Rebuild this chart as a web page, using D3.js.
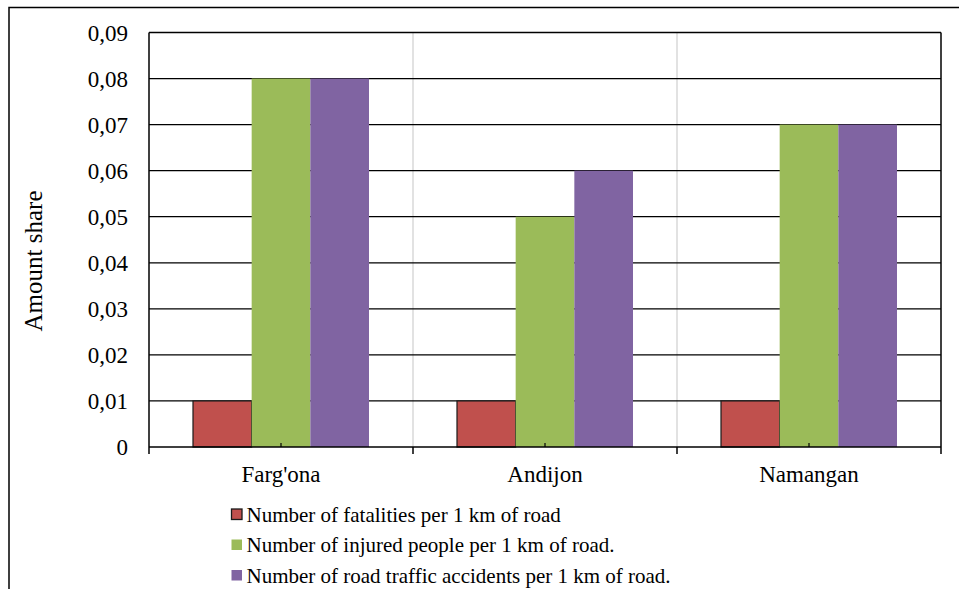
<!DOCTYPE html>
<html>
<head>
<meta charset="utf-8">
<script src="https://cdn.jsdelivr.net/npm/d3@7"></script>
</head>
<body style="margin:0">
<svg id="chart" width="959" height="589" font-family="Liberation Serif"></svg>
<script>
// Regions along the x axis
const categories = ["Farg'ona", "Andijon", "Namangan"];

// Series names (legend order) and their colours
const seriesNames = [
  "Number of fatalities per 1 km of road",
  "Number of injured people per 1 km of road.",
  "Number of road traffic accidents per 1 km of road."
];
const seriesColors = ["#C0504D", "#9BBB59", "#8064A2"];

// Values per region, one array per series
const fatalities = [0.01, 0.01, 0.01];
const injured    = [0.08, 0.05, 0.07];
const accidents  = [0.08, 0.06, 0.07];

// Y axis ticks
const yTicks = [0, 0.01, 0.02, 0.03, 0.04, 0.05, 0.06, 0.07, 0.08, 0.09];
const yTickLabels = ["0", "0,01", "0,02", "0,03", "0,04", "0,05", "0,06", "0,07", "0,08", "0,09"];

const seriesValues = [fatalities, injured, accidents];

const svg = d3.select("#chart");

// Outer chart frame (top and left edges visible)
svg.append("path")
  .attr("d", "M9,589 L9,7.5 L959,7.5")
  .attr("fill", "none")
  .attr("stroke", "#000")
  .attr("stroke-width", 1.5);

const plot = { left: 149, right: 941, top: 32.5, bottom: 447 };

const y = d3.scaleLinear().domain([0, 0.09]).range([plot.bottom, plot.top]);
const x0 = d3.scaleBand().domain(categories).range([plot.left, plot.right]).padding(0);
const x1 = d3.scaleBand().domain(d3.range(seriesNames.length))
  .range([44, x0.bandwidth() - 44]).padding(0);

// Light vertical separators between regions
svg.append("g")
  .selectAll("line")
  .data(categories.slice(1))
  .join("line")
  .attr("x1", d => x0(d)).attr("x2", d => x0(d))
  .attr("y1", plot.top).attr("y2", plot.bottom)
  .attr("stroke", "#d9d9d9")
  .attr("stroke-width", 1.5);

// Horizontal gridlines
svg.append("g")
  .selectAll("line")
  .data(yTicks.slice(1))
  .join("line")
  .attr("x1", plot.left).attr("x2", plot.right)
  .attr("y1", d => y(d)).attr("y2", d => y(d))
  .attr("stroke", "#000")
  .attr("stroke-width", 1.3);

// Right border of plot area
svg.append("line")
  .attr("x1", plot.right).attr("x2", plot.right)
  .attr("y1", plot.top).attr("y2", plot.bottom)
  .attr("stroke", "#000").attr("stroke-width", 1.5);

// Bars
const groups = svg.append("g")
  .selectAll("g")
  .data(categories)
  .join("g")
  .attr("transform", d => `translate(${x0(d)},0)`);

groups.selectAll("rect")
  .data((d, ci) => seriesValues.map((vals, si) => ({ si, v: vals[ci] })))
  .join("rect")
  .attr("x", d => x1(d.si))
  .attr("width", x1.bandwidth())
  .attr("y", d => y(d.v))
  .attr("height", d => y(0) - y(d.v))
  .attr("fill", d => seriesColors[d.si])
  .attr("stroke", d => d.si === 0 ? "#1a1a1a" : "none")
  .attr("stroke-width", 1.2);

// Y axis line
svg.append("line")
  .attr("x1", plot.left).attr("x2", plot.left)
  .attr("y1", plot.top).attr("y2", plot.bottom)
  .attr("stroke", "#000").attr("stroke-width", 1.5);

// X axis line
svg.append("line")
  .attr("x1", plot.left).attr("x2", plot.right)
  .attr("y1", plot.bottom).attr("y2", plot.bottom)
  .attr("stroke", "#000").attr("stroke-width", 1.5);

// Ticks at region boundaries (outward)
const boundaries = categories.map(c => x0(c)).concat([plot.right]);
svg.append("g")
  .selectAll("line")
  .data(boundaries)
  .join("line")
  .attr("x1", d => d).attr("x2", d => d)
  .attr("y1", plot.bottom).attr("y2", plot.bottom + 7)
  .attr("stroke", "#000").attr("stroke-width", 1.5);

// Small marks at region centres (inward)
svg.append("g")
  .selectAll("line")
  .data(categories)
  .join("line")
  .attr("x1", d => x0(d) + x0.bandwidth() / 2).attr("x2", d => x0(d) + x0.bandwidth() / 2)
  .attr("y1", plot.bottom).attr("y2", plot.bottom - 4)
  .attr("stroke", "#000").attr("stroke-width", 1.2);

// Y tick labels
svg.append("g")
  .selectAll("text")
  .data(yTicks)
  .join("text")
  .attr("x", 128)
  .attr("y", d => y(d))
  .attr("dy", "0.35em")
  .attr("text-anchor", "end")
  .attr("font-size", 23)
  .text((d, i) => yTickLabels[i]);

// X category labels
svg.append("g")
  .selectAll("text")
  .data(categories)
  .join("text")
  .attr("x", d => x0(d) + x0.bandwidth() / 2)
  .attr("y", 482)
  .attr("text-anchor", "middle")
  .attr("font-size", 23)
  .text(d => d);

// Y axis title
svg.append("text")
  .attr("transform", "translate(42,261) rotate(-90)")
  .attr("text-anchor", "middle")
  .attr("font-size", 25)
  .text("Amount share");

// Legend
const legend = svg.append("g")
  .selectAll("g")
  .data(seriesNames)
  .join("g")
  .attr("transform", (d, i) => `translate(231,${521.5 + i * 30.5})`);

legend.append("rect")
  .attr("x", 0.5).attr("y", -12.5)
  .attr("width", 10.5).attr("height", 10.5)
  .attr("fill", (d, i) => seriesColors[i])
  .attr("stroke", (d, i) => i === 0 ? "#1a1a1a" : "none")
  .attr("stroke-width", 1.3);

legend.append("text")
  .attr("x", 15.5).attr("y", 0)
  .attr("font-size", 21)
  .text(d => d);
</script>
</body>
</html>
